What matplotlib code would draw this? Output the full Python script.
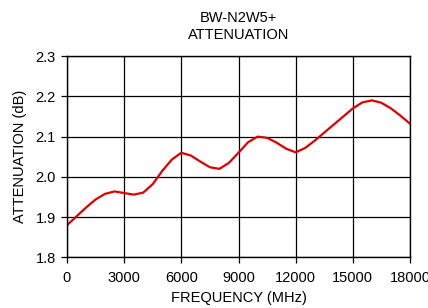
import matplotlib
matplotlib.use('Agg')
import matplotlib.pyplot as plt

plt.rcParams['font.family'] = ['Liberation Sans', 'DejaVu Sans']

# attenuation curve, every 500 MHz
freq_mhz = [0, 500, 1000, 1500, 2000, 2500, 3000, 3500, 4000, 4500,
            5000, 5500, 6000, 6500, 7000, 7500, 8000, 8500, 9000, 9500,
            10000, 10500, 11000, 11500, 12000, 12500, 13000, 13500, 14000, 14500,
            15000, 15500, 16000, 16500, 17000, 17500, 18000]
atten_db = [1.880, 1.902, 1.924, 1.944, 1.958, 1.964, 1.960, 1.956, 1.961, 1.982,
            2.015, 2.043, 2.060, 2.053, 2.038, 2.024, 2.020, 2.035, 2.060, 2.086,
            2.100, 2.097, 2.085, 2.070, 2.061, 2.072, 2.090, 2.110, 2.130, 2.150,
            2.170, 2.185, 2.190, 2.184, 2.170, 2.152, 2.132]

x_ticks = [0, 3000, 6000, 9000, 12000, 15000, 18000]
y_ticks = [1.8, 1.9, 2.0, 2.1, 2.2, 2.3]

fig = plt.figure(figsize=(4.28, 3.08), dpi=100)
ax = fig.add_axes([0.1565, 0.164, 0.8015, 0.654])

ax.plot(freq_mhz, atten_db, color='#dd0000', lw=1.6, solid_capstyle='round',
        solid_joinstyle='round')

ax.set_xlim(0, 18000)
ax.set_ylim(1.8, 2.3)
ax.set_xticks(x_ticks)
ax.set_yticks(y_ticks)
ax.set_yticklabels(['%.1f' % v for v in y_ticks])
ax.grid(True, color='black', lw=0.9)
ax.set_axisbelow(True)
for sp in ax.spines.values():
    sp.set_color('black')
    sp.set_linewidth(1.0)
ax.tick_params(direction='out', length=4, width=0.9, labelsize=10.5, pad=4)
ax.tick_params(axis='x', pad=6)

ax.set_title('BW-N2W5+\nATTENUATION', fontsize=10.5, pad=12, linespacing=1.3)
ax.set_xlabel('FREQUENCY (MHz)', fontsize=10.5, labelpad=4)
ax.set_ylabel('ATTENUATION (dB)', fontsize=10.5, labelpad=6)

fig.savefig('out.png', dpi=100)
